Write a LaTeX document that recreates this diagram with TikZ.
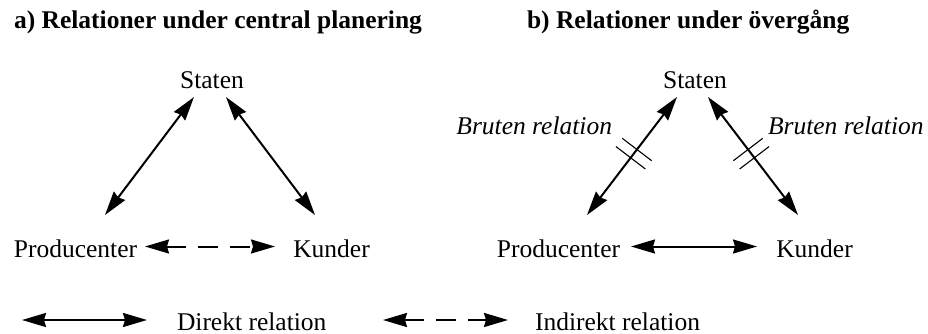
\documentclass[tikz,border=0pt]{standalone}
\usepackage{fontspec}
\setmainfont{Liberation Serif}
\usetikzlibrary{arrows.meta,calc}
\begin{document}
\begin{tikzpicture}[x=1pt,y=-1pt,
  every node/.style={inner sep=0pt,outer sep=0pt,font=\fontsize{25.5}{30}\selectfont},
  lbl/.style={anchor=base},
  ttl/.style={anchor=base west,font=\fontsize{25.5}{30}\selectfont\bfseries},
  brk/.style={font=\fontsize{25.5}{30}\selectfont\itshape},
  tip/.style={Stealth[length=24pt,width=14pt,inset=2pt]},
  rel/.style={line width=2pt,{Stealth[length=24pt,width=14pt,inset=2pt]}-{Stealth[length=24pt,width=14pt,inset=2pt]}},
  indirect/.style={rel,dash pattern=on 20pt off 12pt,dash phase=0pt},
  cut/.style={line width=1.1pt}]
\useasboundingbox (0,0) rectangle (928,334);

% ---- a) central planning ----
\node[ttl] (ta) at (14,29) {a) Relationer under central planering};
\node[lbl] (sa) at (212,89) {Staten};
\node[lbl] (pa) at (75.5,257) {Producenter};
\node[lbl] (ka) at (331.5,257) {Kunder};

\coordinate (saP) at ($(sa.base)+(-18,8)$);
\coordinate (saK) at ($(sa.base)+(14,8)$);
\coordinate (paS) at ($(pa.base)+(29.5,-42)$);
\coordinate (kaS) at ($(ka.base)+(-16.5,-42)$);
\coordinate (paK) at ($(pa.base)+(69.5,-10.5)$);
\coordinate (kaP) at ($(ka.base)+(-56.5,-10.5)$);

\draw[rel] (saP) -- (paS);
\draw[rel] (saK) -- (kaS);
\draw[indirect] (paK) -- (kaP);

% ---- b) transition ----
\node[ttl] (tb) at (527,29) {b) Relationer under övergång};
\node[lbl] (sb) at (695,89) {Staten};
\node[lbl] (pb) at (558.5,257) {Producenter};
\node[lbl] (kb) at (814.5,257) {Kunder};
\node[brk,anchor=base east] (bl) at (612,135) {Bruten relation};
\node[brk,anchor=base west] (br) at (768,135) {Bruten relation};

\coordinate (sbP) at ($(sb.base)+(-18,8)$);
\coordinate (sbK) at ($(sb.base)+(13,8)$);
\coordinate (pbS) at ($(pb.base)+(28.5,-42)$);
\coordinate (kbS) at ($(kb.base)+(-16.5,-42)$);
\coordinate (pbK) at ($(pb.base)+(72.5,-10.5)$);
\coordinate (kbP) at ($(kb.base)+(-57.5,-10.5)$);

\draw[rel] (sbP) -- (pbS);
\draw[rel] (sbK) -- (kbS);
\draw[rel] (pbK) -- (kbP);

% double strokes marking the broken relations
\coordinate (m1) at ($(sbP)!0.445!(pbS)$);
\coordinate (m2) at ($(sbP)!0.515!(pbS)$);
\coordinate (m3) at ($(sbK)!0.445!(kbS)$);
\coordinate (m4) at ($(sbK)!0.515!(kbS)$);
\foreach \m/\e in {m1/sbP,m2/sbP,m3/sbK,m4/sbK}
  \draw[cut] ($(\m)!18.5pt!90:(\e)$) -- ($(\m)!18.5pt!-90:(\e)$);

% ---- legend ----
\coordinate (l1a) at (22,320);
\coordinate (l1b) at (147,320);
\coordinate (l2a) at (383,320);
\coordinate (l2b) at (508,320);
\draw[rel] (l1a) -- (l1b);
\node[anchor=base west] (ld) at (177,330) {Direkt relation};
\draw[indirect] (l2a) -- (l2b);
\node[anchor=base west] (li) at (535,330) {Indirekt relation};
\end{tikzpicture}
\end{document}
